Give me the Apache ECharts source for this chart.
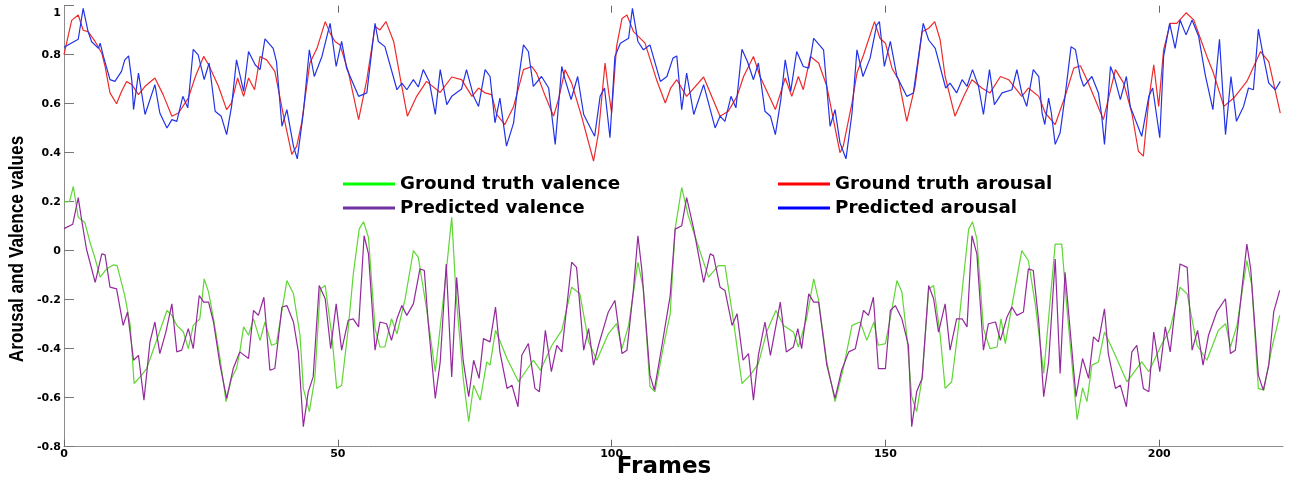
<!DOCTYPE html>
<html>
<head>
<meta charset="utf-8">
<script src="https://cdn.jsdelivr.net/npm/echarts@6/dist/echarts.min.js"></script>
<style>html,body{margin:0;padding:0;background:#fff;}#c{width:1289px;height:480px;}</style>
</head>
<body>
<div id="c"></div>
<script>
const xTicks = [0, 50, 100, 150, 200];
const yTicks = [-0.8, -0.6, -0.4, -0.2, 0, 0.2, 0.4, 0.6, 0.8, 1];
const seriesNames = ['Ground truth valence', 'Predicted valence', 'Ground truth arousal', 'Predicted arousal'];

const gtArousal = [[0,0.80],[1.4,0.94],[2.6,0.962],[3.5,0.90],[4.4,0.894],[5.7,0.853],[6.9,0.806],[7.5,0.752],[8.4,0.644],[9.6,0.60],[10.5,0.65],[11.4,0.69],[12.4,0.678],[13.6,0.637],[14.8,0.671],[16.6,0.705],[18.1,0.637],[19.7,0.549],[20.9,0.562],[22.7,0.623],[24.0,0.711],[25.5,0.793],[26.4,0.759],[28.2,0.671],[29.7,0.576],[30.6,0.603],[31.7,0.705],[32.8,0.630],[33.7,0.705],[34.8,0.657],[35.8,0.793],[37.0,0.779],[38.5,0.732],[40.1,0.549],[41.6,0.393],[42.5,0.427],[43.4,0.522],[44.9,0.766],[46.2,0.826],[47.7,0.935],[48.6,0.887],[49.5,0.854],[50.4,0.840],[51.9,0.732],[53.8,0.535],[55.3,0.698],[56.8,0.915],[57.7,0.901],[58.8,0.935],[60.2,0.854],[61.4,0.705],[62.7,0.549],[64.4,0.630],[66.2,0.691],[68.7,0.646],[70.8,0.709],[72.6,0.698],[74.5,0.630],[75.7,0.664],[76.9,0.644],[78.1,0.637],[79.0,0.556],[80.5,0.515],[82.1,0.589],[83.9,0.739],[85.4,0.752],[86.3,0.725],[87.9,0.630],[89.4,0.549],[90.3,0.617],[91.5,0.739],[92.7,0.684],[94.5,0.549],[96.7,0.366],[97.6,0.481],[98.8,0.766],[99.4,0.657],[100.0,0.562],[100.9,0.833],[101.9,0.948],[102.8,0.962],[104.0,0.894],[106.1,0.847],[108.2,0.698],[109.8,0.603],[110.8,0.665],[111.9,0.698],[113.7,0.630],[116.8,0.709],[119.8,0.549],[121.3,0.569],[122.9,0.630],[124.1,0.711],[125.9,0.793],[127.1,0.711],[129.9,0.576],[131.7,0.705],[132.9,0.630],[134.1,0.711],[135.0,0.657],[136.3,0.793],[137.8,0.766],[139.3,0.671],[140.5,0.535],[141.7,0.400],[142.3,0.427],[143.9,0.603],[144.8,0.725],[146.0,0.799],[148.0,0.935],[149.0,0.867],[150.0,0.847],[151.2,0.745],[152.4,0.698],[153.9,0.528],[155.4,0.671],[156.7,0.894],[157.9,0.908],[159.0,0.935],[160.0,0.860],[160.9,0.711],[162.7,0.549],[164.3,0.630],[165.8,0.698],[167.6,0.664],[169.1,0.644],[171.0,0.711],[172.5,0.698],[174.9,0.630],[176.1,0.664],[178.0,0.630],[179.2,0.562],[181.0,0.515],[182.8,0.630],[184.4,0.745],[185.6,0.755],[186.8,0.698],[188.3,0.617],[189.8,0.535],[192.0,0.739],[193.5,0.684],[195.0,0.562],[196.2,0.406],[197.1,0.386],[198.1,0.617],[199.0,0.759],[199.9,0.589],[200.8,0.820],[202.0,0.928],[203.2,0.928],[204.9,0.971],[206.3,0.942],[207.5,0.867],[208.7,0.793],[209.9,0.725],[211.8,0.589],[213.6,0.623],[216.0,0.691],[218.5,0.813],[220.0,0.772],[222.1,0.562]];

const predArousal = [[0,0.83],[2.6,0.863],[3.5,0.989],[4.4,0.894],[5.05,0.853],[6.3,0.826],[6.6,0.847],[7.2,0.793],[8.4,0.698],[9.3,0.691],[10.5,0.732],[11.1,0.779],[11.8,0.795],[12.4,0.691],[12.7,0.576],[13.6,0.725],[14.8,0.556],[16.6,0.678],[17.5,0.562],[18.8,0.501],[19.7,0.535],[20.6,0.528],[21.7,0.630],[22.6,0.583],[23.6,0.822],[24.5,0.799],[25.6,0.698],[26.5,0.766],[27.6,0.569],[28.7,0.549],[29.7,0.474],[30.6,0.589],[31.5,0.779],[32.1,0.72],[32.8,0.650],[33.7,0.813],[34.9,0.759],[35.8,0.739],[36.7,0.865],[38.2,0.826],[38.8,0.772],[39.8,0.508],[40.7,0.576],[41.9,0.427],[42.6,0.375],[43.7,0.562],[44.8,0.820],[45.7,0.711],[47.1,0.793],[48.6,0.928],[49.7,0.752],[50.7,0.854],[51.6,0.745],[53.8,0.630],[55.3,0.644],[56.8,0.928],[57.4,0.854],[58.6,0.833],[60.8,0.657],[61.7,0.684],[62.6,0.657],[63.8,0.698],[64.7,0.668],[65.6,0.739],[66.7,0.691],[67.8,0.556],[68.7,0.739],[69.9,0.596],[70.8,0.630],[72.6,0.660],[73.5,0.739],[74.8,0.630],[75.7,0.589],[76.9,0.739],[77.8,0.711],[78.7,0.522],[79.6,0.623],[80.8,0.427],[82.1,0.522],[83.0,0.698],[83.9,0.840],[84.8,0.813],[85.7,0.671],[87.2,0.711],[88.5,0.664],[89.7,0.434],[90.9,0.752],[91.5,0.698],[92.6,0.617],[93.8,0.711],[94.9,0.556],[96.9,0.467],[97.9,0.630],[98.7,0.664],[99.7,0.461],[100.6,0.793],[101.6,0.847],[103.1,0.867],[103.8,0.989],[104.8,0.854],[105.8,0.820],[107.0,0.840],[108.9,0.691],[110.1,0.711],[111.2,0.786],[111.9,0.795],[112.8,0.576],[113.7,0.725],[115.0,0.556],[116.8,0.678],[118.9,0.501],[119.8,0.549],[120.7,0.528],[121.8,0.630],[122.7,0.583],[123.8,0.822],[124.8,0.772],[125.9,0.698],[126.8,0.766],[128.0,0.569],[129.0,0.549],[129.9,0.474],[130.9,0.617],[131.7,0.779],[132.7,0.650],[133.8,0.813],[135.0,0.752],[136.0,0.745],[136.9,0.867],[138.7,0.820],[139.9,0.508],[140.8,0.576],[141.7,0.440],[142.8,0.375],[143.9,0.562],[144.8,0.820],[145.9,0.711],[147.2,0.786],[148.4,0.921],[148.9,0.935],[149.8,0.752],[150.9,0.854],[152.1,0.711],[153.9,0.630],[155.1,0.644],[156.9,0.928],[157.9,0.860],[159.1,0.826],[161.0,0.664],[161.8,0.684],[163.0,0.644],[164.0,0.698],[164.9,0.671],[165.9,0.739],[167.0,0.671],[167.9,0.556],[169.0,0.739],[169.9,0.596],[171.3,0.644],[173.1,0.657],[174.0,0.739],[174.9,0.644],[175.8,0.589],[177.0,0.739],[178.0,0.711],[178.6,0.562],[179.1,0.515],[179.8,0.623],[180.3,0.562],[181.0,0.434],[181.9,0.481],[182.8,0.630],[183.9,0.833],[184.7,0.820],[185.6,0.71],[186.2,0.671],[187.7,0.711],[188.9,0.644],[189.5,0.549],[190.0,0.434],[191.1,0.752],[191.7,0.718],[192.9,0.617],[194.0,0.711],[194.7,0.589],[196.8,0.467],[198.1,0.630],[198.8,0.664],[200.1,0.461],[200.8,0.793],[201.9,0.928],[202.9,0.826],[203.8,0.942],[204.9,0.881],[206.0,0.942],[207.2,0.874],[208.4,0.718],[209.8,0.576],[211.0,0.863],[211.8,0.576],[212.1,0.474],[213.1,0.711],[214.1,0.528],[215.4,0.589],[216.3,0.664],[217.2,0.657],[218.1,0.904],[218.9,0.806],[220.0,0.684],[221.2,0.657],[222.1,0.691]];

const gtValence = [[0,0.199],[1.0,0.20],[1.7,0.262],[2.6,0.136],[3.8,0.115],[4.75,0.034],[5.7,-0.034],[6.6,-0.108],[7.8,-0.074],[9.0,-0.058],[9.7,-0.061],[11.1,-0.183],[12.1,-0.305],[12.8,-0.542],[13.9,-0.515],[15.1,-0.481],[16.6,-0.386],[18.8,-0.244],[19.7,-0.264],[20.6,-0.305],[21.8,-0.332],[22.7,-0.400],[23.6,-0.305],[24.8,-0.278],[25.6,-0.115],[26.4,-0.169],[27.3,-0.278],[28.5,-0.440],[29.6,-0.616],[30.6,-0.521],[31.5,-0.481],[32.1,-0.413],[32.8,-0.311],[33.7,-0.345],[34.6,-0.278],[35.8,-0.366],[36.7,-0.291],[37.9,-0.386],[38.8,-0.379],[40.7,-0.122],[41.9,-0.176],[43.1,-0.345],[43.7,-0.562],[44.8,-0.657],[45.8,-0.521],[46.8,-0.156],[47.7,-0.142],[48.9,-0.345],[49.8,-0.562],[50.7,-0.549],[51.9,-0.318],[52.8,-0.101],[53.9,0.088],[54.7,0.118],[55.6,0.054],[56.8,-0.318],[57.7,-0.393],[58.6,-0.393],[59.8,-0.278],[60.8,-0.339],[62.3,-0.196],[63.8,0.000],[64.7,-0.027],[66.2,-0.237],[67.8,-0.494],[69.6,-0.129],[70.8,0.136],[71.6,-0.183],[72.9,-0.521],[73.9,-0.698],[74.8,-0.549],[76.0,-0.610],[77.2,-0.454],[77.8,-0.467],[78.8,-0.325],[80.9,-0.440],[83.0,-0.535],[85.7,-0.447],[87.0,-0.488],[89.1,-0.386],[90.9,-0.325],[92.7,-0.149],[94.2,-0.176],[95.8,-0.372],[97.3,-0.447],[99.4,-0.339],[100.9,-0.298],[101.9,-0.400],[103.1,-0.305],[104.8,-0.047],[105.8,-0.156],[107.0,-0.555],[107.9,-0.576],[109.5,-0.386],[110.7,-0.257],[111.6,0.09],[112.8,0.258],[114.0,0.142],[116.2,-0.007],[117.7,-0.108],[119.5,-0.061],[120.7,-0.061],[122.2,-0.278],[123.8,-0.542],[125.3,-0.508],[126.8,-0.461],[128.3,-0.332],[130.0,-0.244],[131.4,-0.305],[133.2,-0.332],[134.1,-0.393],[135.6,-0.278],[136.9,-0.115],[137.8,-0.203],[139.3,-0.454],[140.8,-0.616],[142.3,-0.481],[143.9,-0.305],[145.4,-0.291],[146.6,-0.366],[147.9,-0.291],[148.7,-0.386],[150.0,-0.379],[151.2,-0.237],[152.1,-0.122],[153.0,-0.169],[153.9,-0.345],[154.8,-0.596],[155.7,-0.657],[156.7,-0.521],[157.9,-0.156],[158.8,-0.142],[160.0,-0.345],[160.9,-0.562],[162.1,-0.535],[163.3,-0.318],[164.3,-0.101],[165.2,0.088],[165.9,0.118],[166.7,0.048],[167.9,-0.318],[169.1,-0.400],[170.4,-0.393],[171.1,-0.278],[171.9,-0.379],[173.1,-0.224],[174.9,0.000],[176.1,-0.040],[177.4,-0.224],[178.9,-0.501],[181.0,0.027],[182.2,0.027],[183.1,-0.224],[185.0,-0.69],[186.0,-0.56],[186.8,-0.616],[187.7,-0.467],[188.9,-0.454],[190.0,-0.332],[191.7,-0.413],[194.1,-0.535],[196.8,-0.454],[198.1,-0.494],[200.2,-0.393],[202.0,-0.318],[203.8,-0.149],[205.1,-0.176],[206.9,-0.386],[208.7,-0.447],[210.8,-0.325],[212.1,-0.298],[213.0,-0.393],[214.2,-0.305],[216.0,-0.040],[216.9,-0.142],[218.1,-0.562],[219.1,-0.569],[220.6,-0.393],[222.0,-0.264]];

const predValence = [[0,0.09],[1.6,0.108],[2.6,0.217],[3.2,0.129],[4.1,0.007],[5.7,-0.129],[6.9,-0.013],[7.5,-0.017],[8.4,-0.149],[9.6,-0.156],[10.8,-0.305],[11.6,-0.250],[12.7,-0.447],[13.6,-0.427],[14.6,-0.610],[15.7,-0.372],[16.6,-0.291],[17.5,-0.420],[18.6,-0.332],[19.7,-0.217],[20.6,-0.413],[21.5,-0.406],[22.7,-0.318],[23.6,-0.400],[24.7,-0.183],[25.5,-0.210],[26.4,-0.210],[27.3,-0.291],[28.5,-0.467],[29.7,-0.603],[30.9,-0.481],[32.1,-0.413],[33.7,-0.440],[34.6,-0.244],[35.5,-0.264],[36.5,-0.190],[37.6,-0.488],[38.5,-0.481],[39.8,-0.230],[40.7,-0.224],[41.9,-0.291],[42.8,-0.413],[43.7,-0.718],[44.6,-0.576],[45.5,-0.515],[46.6,-0.142],[47.7,-0.196],[48.7,-0.400],[49.7,-0.217],[50.7,-0.406],[51.9,-0.284],[52.8,-0.278],[53.8,-0.311],[54.8,0.061],[55.6,-0.013],[56.8,-0.406],[57.7,-0.291],[58.9,-0.298],[59.8,-0.366],[60.8,-0.278],[61.7,-0.224],[62.6,-0.264],[63.8,-0.217],[65.0,-0.074],[65.8,-0.081],[66.5,-0.291],[67.8,-0.603],[68.7,-0.454],[69.8,-0.054],[70.8,-0.515],[71.7,-0.109],[72.9,-0.45],[73.9,-0.596],[74.8,-0.447],[75.8,-0.521],[76.6,-0.359],[77.8,-0.372],[78.8,-0.230],[79.6,-0.413],[80.9,-0.562],[81.8,-0.549],[82.9,-0.637],[83.6,-0.427],[84.8,-0.379],[86.0,-0.562],[86.8,-0.576],[87.9,-0.325],[89.0,-0.494],[90.0,-0.386],[90.9,-0.413],[92.7,-0.047],[93.6,-0.068],[94.9,-0.406],[95.8,-0.318],[96.7,-0.467],[97.6,-0.386],[99.4,-0.250],[100.6,-0.203],[101.9,-0.420],[102.8,-0.406],[104.0,-0.156],[104.8,0.061],[105.5,-0.074],[107.0,-0.508],[107.8,-0.569],[109.2,-0.386],[110.1,-0.264],[110.7,-0.183],[111.6,0.088],[112.8,0.102],[113.7,0.217],[115.0,0.088],[116.8,-0.129],[118.0,-0.013],[118.6,-0.020],[119.8,-0.149],[120.7,-0.162],[122.0,-0.305],[122.9,-0.257],[124.0,-0.447],[125.0,-0.420],[125.9,-0.610],[126.8,-0.427],[128.0,-0.291],[129.0,-0.427],[130.8,-0.210],[131.9,-0.413],[133.2,-0.393],[134.0,-0.318],[134.7,-0.400],[136.0,-0.176],[136.9,-0.210],[137.8,-0.210],[139.3,-0.467],[140.8,-0.603],[142.0,-0.488],[143.3,-0.413],[144.5,-0.400],[146.0,-0.244],[146.9,-0.264],[147.8,-0.190],[148.7,-0.481],[150.0,-0.481],[150.9,-0.244],[151.8,-0.224],[153.0,-0.278],[154.2,-0.386],[154.8,-0.718],[155.7,-0.576],[156.7,-0.521],[157.9,-0.142],[158.8,-0.196],[159.7,-0.332],[160.9,-0.217],[161.8,-0.406],[163.0,-0.278],[164.0,-0.278],[164.9,-0.311],[165.8,0.061],[166.7,-0.013],[167.9,-0.406],[168.8,-0.298],[170.1,-0.291],[171.0,-0.366],[172.2,-0.271],[173.1,-0.230],[174.0,-0.264],[175.2,-0.250],[176.1,-0.074],[177.0,-0.081],[178.0,-0.291],[178.9,-0.596],[179.8,-0.454],[181.0,-0.034],[181.9,-0.501],[182.8,-0.088],[184.8,-0.596],[186.0,-0.44],[187.1,-0.521],[188.0,-0.352],[188.9,-0.372],[190.0,-0.237],[190.7,-0.420],[192.0,-0.562],[192.9,-0.549],[194.0,-0.637],[195.0,-0.413],[195.9,-0.386],[197.1,-0.562],[198.1,-0.576],[199.0,-0.332],[200.1,-0.494],[201.1,-0.311],[202.0,-0.413],[203.8,-0.054],[205.1,-0.068],[206.0,-0.406],[207.0,-0.325],[208.0,-0.467],[209.0,-0.345],[210.5,-0.250],[212.1,-0.196],[213.0,-0.420],[213.9,-0.406],[215.1,-0.156],[216.0,0.027],[216.7,-0.074],[218.1,-0.508],[219.0,-0.569],[220.0,-0.467],[220.9,-0.250],[222.0,-0.162]];

const chart = echarts.init(document.getElementById('c'), null, {renderer: 'canvas'});
const tickFont = {fontFamily: 'DejaVu Sans', fontWeight: 'bold', fontSize: 11, color: '#000'};
const legendText = {fontFamily: 'DejaVu Sans', fontWeight: 'bold', fontSize: 18.3, color: '#000', lineHeight: 18};
function legendCfg(left, names, colors) {
  return {
    orient: 'vertical', left: left, top: 175, padding: 0, itemGap: 6,
    icon: 'rect', itemWidth: 52, itemHeight: 3, selectedMode: false,
    textStyle: legendText,
    data: names.map((n, i) => ({name: n, itemStyle: {color: colors[i]}}))
  };
}
function lineSeries(name, data, color, width, z) {
  return {name: name, type: 'line', data: data, showSymbol: false, symbol: 'none',
    lineStyle: {color: color, width: width}, itemStyle: {color: color}, z: z, animation: false};
}
const option = {
  backgroundColor: '#fff',
  animation: false,
  grid: {left: 64, right: 6, top: 5.7, bottom: 33.3},
  legend: [
    legendCfg(343, [seriesNames[0], seriesNames[1]], ['#00ff00', '#7030a0']),
    legendCfg(778, [seriesNames[2], seriesNames[3]], ['#ff0000', '#0000ff'])
  ],
  xAxis: [{
    type: 'value', min: 0, max: 222.6, position: 'bottom',
    axisLine: {show: true, onZero: false, lineStyle: {color: '#8c8c8c', width: 1}},
    axisTick: {show: true, inside: true, length: 7, customValues: xTicks, lineStyle: {color: '#666'}},
    axisLabel: Object.assign({customValues: xTicks, margin: 2}, tickFont),
    splitLine: {show: false}
  }, {
    type: 'value', min: 0, max: 222.6, position: 'top',
    axisLine: {show: false, onZero: false},
    axisTick: {show: true, inside: true, length: 7, customValues: xTicks.slice(1), lineStyle: {color: '#666'}},
    axisLabel: {show: false},
    splitLine: {show: false}
  }],
  yAxis: {
    type: 'value', min: -0.8, max: 1,
    axisLine: {show: true, onZero: false, lineStyle: {color: '#8c8c8c', width: 1}},
    axisTick: {show: true, inside: true, length: 10, customValues: yTicks, lineStyle: {color: '#777'}},
    axisLabel: Object.assign({customValues: yTicks, margin: 3,
      formatter: v => {
        const s = String(Math.round(v * 10) / 10);
        return s === '1' ? '{top|1}' : s;
      },
      rich: {top: {fontFamily: 'DejaVu Sans', fontWeight: 'bold', fontSize: 11, color: '#000', padding: [14, 0, 0, 0]}}
    }, tickFont),
    splitLine: {show: false}
  },
  graphic: [
    {type: 'text', x: 18, y: 249, rotation: Math.PI / 2, scaleY: 1.15,
      style: {text: 'Arousal and Valence values', fontFamily: 'Liberation Sans', fontWeight: 'bold', fontSize: 17.2, fill: '#000', align: 'center', verticalAlign: 'middle'}},
    {type: 'text', x: 664, y: 467,
      style: {text: 'Frames', fontFamily: 'DejaVu Sans', fontWeight: 'bold', fontSize: 23, fill: '#000', align: 'center', verticalAlign: 'middle'}}
  ],
  series: [
    lineSeries(seriesNames[0], gtValence, '#5fd633', 1.2, 2),
    lineSeries(seriesNames[1], predValence, '#93299c', 1.2, 3),
    lineSeries(seriesNames[2], gtArousal, '#ee2a2a', 1.2, 2),
    lineSeries(seriesNames[3], predArousal, '#2233e6', 1.2, 3)
  ]
};
chart.setOption(option);
</script>
</body>
</html>
